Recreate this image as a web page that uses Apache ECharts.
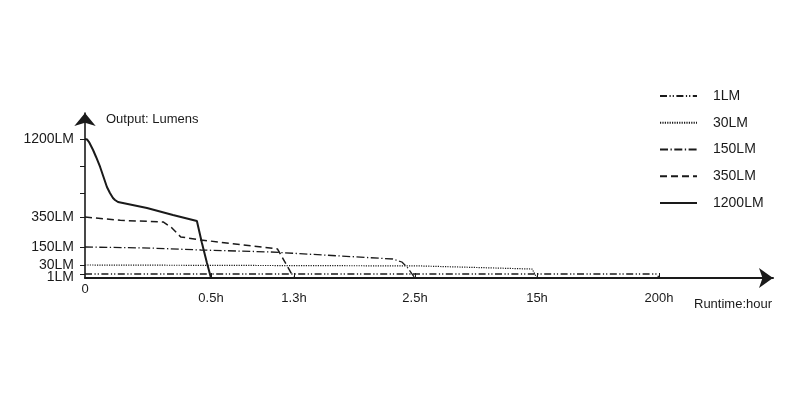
<!DOCTYPE html>
<html>
<head>
<meta charset="utf-8">
<script src="https://cdn.jsdelivr.net/npm/echarts@6/dist/echarts.min.js"></script>
<style>
html,body{margin:0;padding:0;background:#fff;}
#c{width:800px;height:400px;}
</style>
</head>
<body>
<div id="c"></div>
<script>
// ---- Data (runtime in hours, output in lumens) ----
const seriesNames = ['1LM', '30LM', '150LM', '350LM', '1200LM'];

const xTickHours  = [0, 0.5, 1.3, 2.5, 15, 200];
const xTickLabels = ['0', '0.5h', '1.3h', '2.5h', '15h', '200h'];
const yTickLumens = [1, 30, 150, 350, 1200];
const yTickLabels = ['1LM', '30LM', '150LM', '350LM', '1200LM'];
const yMinorLumens = [610, 900];

const hours1     = [0, 197, 200];
const lumens1    = [1, 1, 0];
const hours30    = [0, 3.0, 14.5, 15];
const lumens30   = [30, 27, 17, 0];
const hours150   = [0, 0.26, 0.46, 1.07, 2.28, 2.37, 2.43, 2.5];
const lumens150  = [150, 143, 130, 117, 70, 50, 20, 0];
const hours350   = [0, 0.14, 0.31, 0.345, 0.38, 0.46, 1.14, 1.3];
const lumens350  = [350, 328, 317, 277, 217, 197, 137, 0];
const hours1200  = [0, 0.008, 0.016, 0.024, 0.032, 0.044, 0.06, 0.087, 0.099, 0.111, 0.119, 0.131, 0.246, 0.349, 0.444, 0.464, 0.484, 0.5];
const lumens1200 = [1200, 1195, 1167, 1124, 1080, 1004, 895, 677, 611, 557, 535, 513, 448, 372, 323, 177, 43, 0];

// ---- Non-linear (piecewise) axis scales of the original drawing ----
const xScaleFrom = xTickHours;
const xScaleTo   = [0, 126, 209, 330, 452, 574];
const yScaleFrom = [0].concat(yTickLumens);
const yScaleTo   = [0, 4, 13, 31, 61, 139];
const X_MAX = 688, Y_MAX = 165;

function interp(v, from, to) {
  for (let i = 0; i < from.length - 1; i++) {
    if (v <= from[i + 1]) {
      return to[i] + (v - from[i]) / (from[i + 1] - from[i]) * (to[i + 1] - to[i]);
    }
  }
  return to[to.length - 1];
}
const sx = h => interp(h, xScaleFrom, xScaleTo);
const sy = l => interp(l, yScaleFrom, yScaleTo);

const raw = {
  '1LM': [hours1, lumens1],
  '30LM': [hours30, lumens30],
  '150LM': [hours150, lumens150],
  '350LM': [hours350, lumens350],
  '1200LM': [hours1200, lumens1200]
};
const styles = {
  '1LM':    { type: [7, 2.5, 1.2, 2, 1.2, 2.5], width: 1.3 },
  '30LM':   { type: [1.2, 1.2], width: 1.2 },
  '150LM':  { type: [8, 2.5, 1.3, 2.5], width: 1.3 },
  '350LM':  { type: [7, 4], width: 1.5 },
  '1200LM': { type: 'solid', width: 2 }
};

const FONT = "'Liberation Sans', Arial, Helvetica, sans-serif";
const INK = '#1a1a1a';

const xLabelVals = xTickHours.slice(1).map(sx);
const yLabelVals = yTickLumens.map(sy);
const yTickVals = yTickLumens.concat(yMinorLumens).map(sy);

function nearestLabel(v, vals, labels) {
  let best = 0;
  for (let i = 1; i < vals.length; i++) if (Math.abs(vals[i] - v) < Math.abs(vals[best] - v)) best = i;
  return labels[best];
}

const yLabelCommon = { show: true, margin: 11, fontSize: 14, color: INK, fontFamily: FONT };

const chart = echarts.init(document.getElementById('c'), null, { renderer: 'canvas' });
chart.setOption({
  animation: false,
  backgroundColor: '#fff',
  textStyle: { fontFamily: FONT },
  grid: { left: 85, right: 800 - 85 - X_MAX, top: 278 - Y_MAX, bottom: 122, containLabel: false },
  legend: {
    orient: 'vertical',
    left: 654,
    top: 84,
    itemWidth: 37,
    itemHeight: 14,
    itemGap: 12.75,
    data: seriesNames,
    itemStyle: { opacity: 0, borderWidth: 0 },
    textStyle: { fontSize: 14, color: INK, fontFamily: FONT, padding: [0, 0, 0, 11] }
  },
  xAxis: [{
    type: 'value', min: 0, max: X_MAX,
    splitLine: { show: false },
    axisLine: { show: true, lineStyle: { color: INK, width: 2 }, symbol: ['none', 'arrow'], symbolSize: [15, 14] },
    axisTick: { show: true, inside: true, length: 5, customValues: xLabelVals, lineStyle: { color: INK, width: 1 } },
    axisLabel: {
      show: true, customValues: xLabelVals, margin: 14, fontSize: 13, color: INK, fontFamily: FONT,
      formatter: v => nearestLabel(v, xLabelVals, xTickLabels.slice(1))
    }
  }, {
    type: 'value', min: 0, max: X_MAX, position: 'bottom',
    splitLine: { show: false },
    axisLine: { show: false },
    axisTick: { show: false },
    axisLabel: {
      show: true, customValues: [sx(xTickHours[0])], margin: 4.5, fontSize: 13, color: INK, fontFamily: FONT,
      formatter: () => xTickLabels[0]
    }
  }],
  yAxis: [{
    type: 'value', min: 0, max: Y_MAX,
    splitLine: { show: false },
    axisLine: { show: true, lineStyle: { color: INK, width: 1.6 }, symbol: ['none', 'arrow'], symbolSize: [16, 13] },
    axisTick: { show: true, inside: false, length: 5, customValues: yTickVals, lineStyle: { color: INK, width: 1 } },
    axisLabel: Object.assign({}, yLabelCommon, {
      customValues: yLabelVals.slice(1),
      formatter: v => nearestLabel(v, yLabelVals, yTickLabels)
    })
  }, {
    type: 'value', min: 0, max: Y_MAX, position: 'left',
    splitLine: { show: false },
    axisLine: { show: false },
    axisTick: { show: false },
    axisLabel: Object.assign({}, yLabelCommon, {
      customValues: [yLabelVals[0]],
      formatter: () => '{d|' + yTickLabels[0] + '}',
      rich: { d: { fontSize: 14, fontFamily: FONT, color: INK, padding: [7, 0, 0, 0] } }
    })
  }],
  graphic: [
    { type: 'text', left: 106, top: 113, style: { text: 'Output: Lumens', font: "13px " + FONT, fill: INK } },
    { type: 'text', left: 694, top: 298, style: { text: 'Runtime:hour', font: "13px " + FONT, fill: INK } }
  ],
  series: seriesNames.map(name => ({
    name: name,
    type: 'line',
    xAxisIndex: 0,
    yAxisIndex: 0,
    showSymbol: false,
    symbol: 'none',
    color: INK,
    lineStyle: { color: INK, width: styles[name].width, type: styles[name].type },
    data: raw[name][0].map((h, i) => [sx(h), sy(raw[name][1][i])])
  }))
});
</script>
</body>
</html>
